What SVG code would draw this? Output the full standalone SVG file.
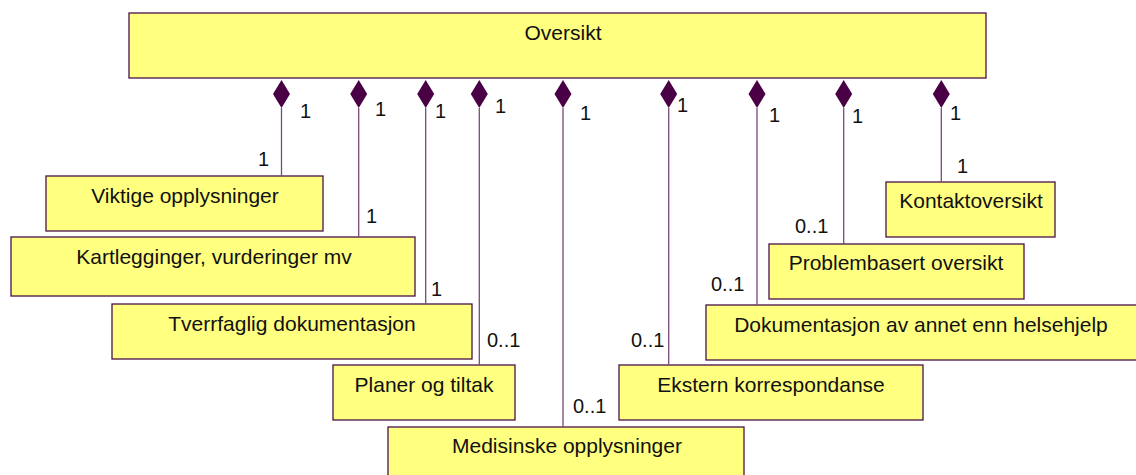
<svg xmlns="http://www.w3.org/2000/svg" width="1136" height="475" viewBox="0 0 1136 475">
<defs>
<style>
.box{fill:#FFFF80;stroke:#4B1248;stroke-width:1.3}
.t{font-family:"Liberation Sans",Arial,sans-serif;font-size:21px;fill:#111;text-anchor:middle}
.m{font-family:"Liberation Sans",Arial,sans-serif;font-size:20px;fill:#111}
.ln{stroke:#7A4A7A;stroke-width:1.3;fill:none}
.dia{fill:#4A0045;stroke:none}
</style>
<path id="d" class="dia" d="M0,0 L8.5,14 L0,28 L-8.5,14 Z"/>
</defs>
<rect width="1136" height="475" fill="#fff"/>
<g id="oversikt"><rect class="box" x="129" y="13" width="857" height="65"/><text class="t" x="563" y="40">Oversikt</text></g>
<g id="viktige"><rect class="box" x="46" y="176" width="277" height="55"/><text class="t" x="185" y="203">Viktige opplysninger</text></g>
<g id="kartlegginger"><rect class="box" x="11" y="237" width="404" height="59"/><text class="t" x="214" y="264">Kartlegginger, vurderinger mv</text></g>
<g id="tverrfaglig"><rect class="box" x="112" y="304" width="360" height="55"/><text class="t" x="292" y="331">Tverrfaglig dokumentasjon</text></g>
<g id="planer"><rect class="box" x="333" y="365" width="182" height="55"/><text class="t" x="424" y="392">Planer og tiltak</text></g>
<g id="medisinske"><rect class="box" x="388" y="427" width="356" height="58"/><text class="t" x="567" y="453">Medisinske opplysninger</text></g>
<g id="ekstern"><rect class="box" x="619" y="365" width="304" height="55"/><text class="t" x="771" y="392">Ekstern korrespondanse</text></g>
<g id="dokumentasjon"><rect class="box" x="706" y="305" width="440" height="55"/><text class="t" x="921" y="332">Dokumentasjon av annet enn helsehjelp</text></g>
<g id="problembasert"><rect class="box" x="769" y="244" width="255" height="55"/><text class="t" x="896" y="270">Problembasert oversikt</text></g>
<g id="kontakt"><rect class="box" x="886" y="182" width="169" height="55"/><text class="t" x="971" y="208">Kontaktoversikt</text></g>
<g id="connectors">
<path class="ln" d="M281.5,108V176M358.7,108V237M425.7,108V304M479.3,108V365M563,108V427M668.7,108V365M757,108V305M843.7,108V244M941.3,108V182"/>
<use href="#d" x="281.5" y="80"/>
<use href="#d" x="358.7" y="80"/>
<use href="#d" x="425.7" y="80"/>
<use href="#d" x="479.3" y="80"/>
<use href="#d" x="563" y="80"/>
<use href="#d" x="668.7" y="80"/>
<use href="#d" x="757" y="80"/>
<use href="#d" x="843.7" y="80"/>
<use href="#d" x="941.3" y="80"/>
<text class="m" x="300" y="118">1</text>
<text class="m" x="375" y="116">1</text>
<text class="m" x="435" y="118">1</text>
<text class="m" x="495" y="113">1</text>
<text class="m" x="580" y="120">1</text>
<text class="m" x="677" y="112">1</text>
<text class="m" x="769" y="122">1</text>
<text class="m" x="852" y="123">1</text>
<text class="m" x="950" y="120">1</text>
<text class="m" x="258" y="166">1</text>
<text class="m" x="366" y="223">1</text>
<text class="m" x="431" y="296">1</text>
<text class="m" x="487" y="347">0..1</text>
<text class="m" x="573" y="413">0..1</text>
<text class="m" x="631" y="347">0..1</text>
<text class="m" x="711" y="291">0..1</text>
<text class="m" x="795" y="233">0..1</text>
<text class="m" x="957" y="173">1</text>
</g>
</svg>
